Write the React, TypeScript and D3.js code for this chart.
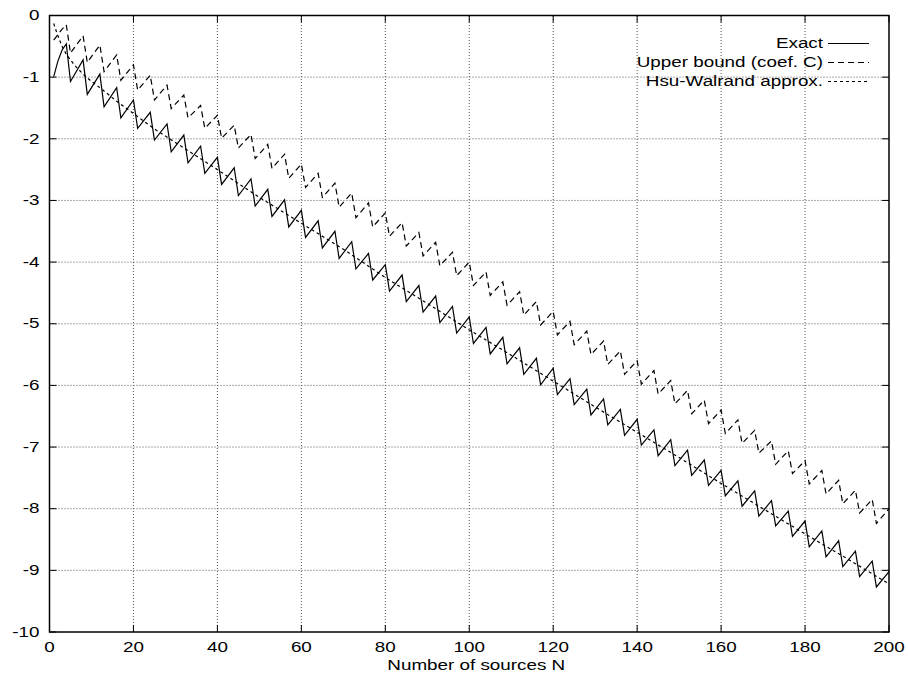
import React from 'react';
import * as d3 from 'd3';

const W = 908;
const H = 681;
const margin = { top: 15.5, right: 19, bottom: 49, left: 49.5 };
const SX = 1.3; // the source font is stretched sideways

// x ticks / y ticks
const xTicks = [0, 20, 40, 60, 80, 100, 120, 140, 160, 180, 200];
const yTicks = [0, -1, -2, -3, -4, -5, -6, -7, -8, -9, -10];

// Exact: first points, then peaks (N = 4k) and troughs (N = 4k+1)
const exactStartN = [1, 2, 3];
const exactStart = [-0.99, -0.74, -0.56];
const peakN = [4, 8, 12, 16, 20, 24, 28, 32, 36, 40, 44, 48, 52, 56, 60, 64, 68, 72, 76, 80,
  84, 88, 92, 96, 100, 104, 108, 112, 116, 120, 124, 128, 132, 136, 140, 144, 148, 152, 156, 160,
  164, 168, 172, 176, 180, 184, 188, 192, 196, 200];
const troughN = [5, 9, 13, 17, 21, 25, 29, 33, 37, 41, 45, 49, 53, 57, 61, 65, 69, 73, 77, 81,
  85, 89, 93, 97, 101, 105, 109, 113, 117, 121, 125, 129, 133, 137, 141, 145, 149, 153, 157, 161,
  165, 169, 173, 177, 181, 185, 189, 193, 197];
const exactPeaks = [-0.46, -0.72, -0.95, -1.17, -1.37, -1.57, -1.76, -1.94, -2.12, -2.30,
  -2.47, -2.65, -2.82, -2.99, -3.16, -3.33, -3.50, -3.67, -3.86, -4.04,
  -4.21, -4.38, -4.55, -4.72, -4.89, -5.06, -5.22, -5.39, -5.56, -5.72,
  -5.89, -6.06, -6.22, -6.39, -6.55, -6.72, -6.88, -7.05, -7.21, -7.38,
  -7.55, -7.71, -7.87, -8.04, -8.20, -8.36, -8.52, -8.69, -8.85, -9.02];
const exactTroughs = [-1.07, -1.28, -1.48, -1.66, -1.83, -2.02, -2.21, -2.39, -2.56, -2.74,
  -2.92, -3.09, -3.26, -3.43, -3.60, -3.77, -3.94, -4.11, -4.29, -4.47,
  -4.64, -4.81, -4.98, -5.15, -5.32, -5.49, -5.65, -5.82, -5.99, -6.15,
  -6.31, -6.48, -6.64, -6.81, -6.97, -7.14, -7.30, -7.46, -7.62, -7.79,
  -7.96, -8.12, -8.28, -8.45, -8.62, -8.78, -8.94, -9.10, -9.27];

// Upper bound (coef. C)
const upperStartN = [1, 2, 3];
const upperStart = [-0.40, -0.31, -0.22];
const upperPeaks = [-0.15, -0.33, -0.48, -0.64, -0.80, -0.97, -1.13, -1.29, -1.46, -1.62,
  -1.78, -1.93, -2.09, -2.25, -2.41, -2.56, -2.72, -2.88, -3.04, -3.20,
  -3.36, -3.52, -3.68, -3.84, -4.00, -4.16, -4.32, -4.48, -4.64, -4.80,
  -4.96, -5.12, -5.28, -5.44, -5.60, -5.76, -5.92, -6.08, -6.24, -6.40,
  -6.56, -6.73, -6.90, -7.06, -7.22, -7.38, -7.54, -7.70, -7.85, -8.00];
const upperTroughs = [-0.61, -0.76, -0.91, -1.05, -1.21, -1.37, -1.51, -1.66, -1.83, -1.99,
  -2.15, -2.32, -2.48, -2.64, -2.79, -2.95, -3.11, -3.28, -3.43, -3.58,
  -3.74, -3.90, -4.06, -4.22, -4.38, -4.54, -4.70, -4.86, -5.02, -5.18,
  -5.34, -5.50, -5.66, -5.82, -5.98, -6.14, -6.30, -6.46, -6.62, -6.78,
  -6.94, -7.10, -7.28, -7.43, -7.60, -7.76, -7.92, -8.07, -8.24];

// Hsu-Walrand approx.
const hsuN = [1, 2, 3, 4, 6, 8, 10, 12, 16, 20, 25, 30, 40, 50, 60, 70, 80, 90, 100,
  110, 120, 130, 140, 150, 160, 170, 180, 190, 200];
const hsu = [-0.13, -0.33, -0.50, -0.63, -0.81, -0.95, -1.07, -1.17, -1.39, -1.59, -1.84, -2.06,
  -2.50, -2.95, -3.37, -3.79, -4.25, -4.67, -5.10, -5.51, -5.93, -6.35, -6.76, -7.17,
  -7.59, -8.00, -8.41, -8.81, -9.22];

type Pt = [number, number];

const sawtooth = (sN: number[], s: number[], peaks: number[], troughs: number[]): Pt[] => {
  const pts: Pt[] = sN.map((n, i) => [n, s[i]]);
  peakN.forEach((n, i) => {
    pts.push([n, peaks[i]]);
    if (i < troughN.length) pts.push([troughN[i], troughs[i]]);
  });
  return pts;
};

const exactPts = sawtooth(exactStartN, exactStart, exactPeaks, exactTroughs);
const upperPts = sawtooth(upperStartN, upperStart, upperPeaks, upperTroughs);
const hsuPts: Pt[] = hsuN.map((n, i) => [n, hsu[i]]);

const legendItems = [
  { label: 'Exact', dash: 'none' },
  { label: 'Upper bound (coef. C)', dash: '6,4' },
  { label: 'Hsu-Walrand approx.', dash: '3,3' },
];

const FONT = '"Liberation Sans", Arial, Helvetica, sans-serif';

const Label = ({ x, y, anchor, children }: { x: number; y: number; anchor: string; children: React.ReactNode }) => (
  <text
    transform={`translate(${x},${y}) scale(${SX},1)`}
    textAnchor={anchor}
    dominantBaseline="central"
    fontSize={14.5}
    fontFamily={FONT}
    fill="#000"
  >
    {children}
  </text>
);

export default function App() {
  const x = d3.scaleLinear().domain([0, 200]).range([margin.left, W - margin.right]);
  const y = d3.scaleLinear().domain([-10, 0]).range([H - margin.bottom, margin.top]);
  const line = d3.line<Pt>().x(d => x(d[0])).y(d => y(d[1]));

  const x0 = x(0), x1 = x(200), y0 = y(-10), y1 = y(0);
  const tickLen = 7;

  return (
    <svg width={W} height={H} style={{ position: 'absolute', left: 0, top: 0, background: '#fff' }}>
      {/* grid */}
      <g stroke="#555" strokeWidth={1} strokeDasharray="1,2">
        {xTicks.slice(1, -1).map(t => (
          <line key={'gx' + t} x1={x(t)} x2={x(t)} y1={y0} y2={y1} />
        ))}
        {yTicks.slice(1, -1).map(t => (
          <line key={'gy' + t} x1={x0} x2={x1} y1={y(t)} y2={y(t)} />
        ))}
      </g>

      {/* curves */}
      <g fill="none" stroke="#000" strokeWidth={1.2}>
        <path d={line(hsuPts) || ''} strokeDasharray="3,3" />
        <path d={line(upperPts) || ''} strokeDasharray="6,4" />
        <path d={line(exactPts) || ''} />
      </g>

      {/* frame + ticks */}
      <rect x={x0} y={y1} width={x1 - x0} height={y0 - y1} fill="none" stroke="#000" strokeWidth={1.5} />
      <g stroke="#000" strokeWidth={1}>
        {xTicks.map(t => (
          <g key={'tx' + t}>
            <line x1={x(t)} x2={x(t)} y1={y0} y2={y0 - tickLen} />
            <line x1={x(t)} x2={x(t)} y1={y1} y2={y1 + tickLen} />
          </g>
        ))}
        {yTicks.map(t => (
          <g key={'ty' + t}>
            <line x1={x0} x2={x0 + tickLen} y1={y(t)} y2={y(t)} />
            <line x1={x1} x2={x1 - tickLen} y1={y(t)} y2={y(t)} />
          </g>
        ))}
      </g>

      {/* tick labels */}
      {xTicks.map(t => (
        <Label key={'lx' + t} x={x(t)} y={y0 + 15} anchor="middle">{t}</Label>
      ))}
      {yTicks.map(t => (
        <Label key={'ly' + t} x={x0 - 10} y={y(t)} anchor="end">{t}</Label>
      ))}
      <Label x={x(100) + 7} y={y0 + 33} anchor="middle">Number of sources N</Label>

      {/* legend */}
      {legendItems.map((d, i) => {
        const ly = 43.5 + i * 19;
        return (
          <g key={d.label}>
            <Label x={823} y={ly} anchor="end">{d.label}</Label>
            <line x1={828} x2={869} y1={ly} y2={ly} stroke="#000" strokeWidth={1.2}
              strokeDasharray={d.dash === 'none' ? undefined : d.dash} />
          </g>
        );
      })}
    </svg>
  );
}
